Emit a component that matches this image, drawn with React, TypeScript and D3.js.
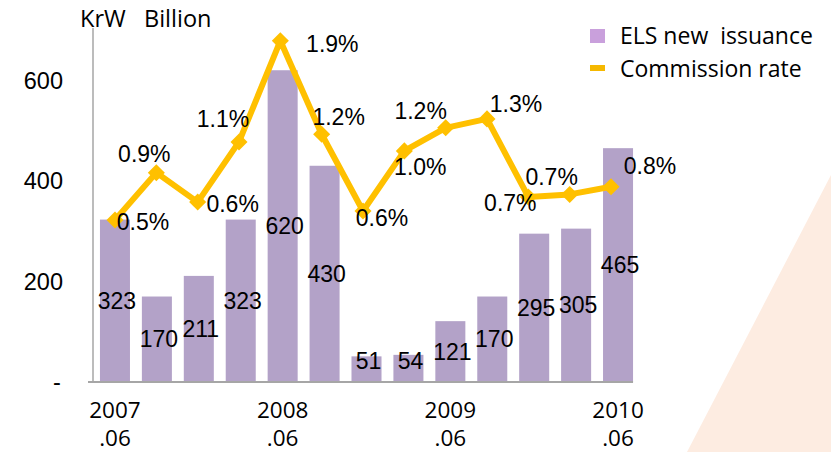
import * as d3 from "d3";

// quarterly periods, ELS issuance (KrW bn) and commission rate (%)
const periods = [
  "2007.06", "2007.09", "2007.12", "2008.03", "2008.06", "2008.09", "2008.12",
  "2009.03", "2009.06", "2009.09", "2009.12", "2010.03", "2010.06",
];
const issuance = [323, 170, 211, 323, 620, 430, 51, 54, 121, 170, 295, 305, 465];
const commission = [0.5, 0.87, 0.64, 1.11, 1.9, 1.17, 0.57, 1.04, 1.22, 1.29, 0.68, 0.7, 0.76];
const yTicks = [0, 200, 400, 600];

// manual label nudges (dx, dy) for the rate labels, as placed in the original
const rateLabelNudge = [
  [28, 2], [-12, -19], [35, 2], [-16, -23], [52, 3], [17, -17], [19, 7],
  [16, 16], [-25, -17], [29, -15], [-18, 6], [-18, -17], [39, -21],
];

const width = 831;
const height = 452;
const numFont = "'Liberation Sans', Arial, sans-serif";
const textFont = "'Open Sans', 'Noto Sans', sans-serif";
const barColor = "#b3a2c8";
const lineColor = "#ffc000";

export default function App() {
  const x = d3.scaleBand()
    .domain(periods)
    .range([94, 639])
    .paddingInner(0.284)
    .paddingOuter(0.142);

  // the rate series sits on its own (secondary) axes
  const x2 = d3.scalePoint()
    .domain(periods)
    .range([115, 611]);

  const y = d3.scaleLinear().domain([0, 700]).range([382, 30]);
  const y2 = d3.scaleLinear().domain([0, 2]).range([284, 28]);

  const line = d3.line<number>()
    .x((d, i) => x2(periods[i]))
    .y(d => y2(d));

  const diamond = d3.symbol(d3.symbolSquare, 145)();

  const axisX = x.range()[0] - 1;

  return (
    <svg width={width} height={height} style={{ position: "absolute", left: 0, top: 0, background: "#fff" }}>
      {/* decorative background wedge */}
      <polygon points="687,452 831,175 831,452" fill="#fdece1" />

      <text x={80} y={27} fontFamily={textFont} fontSize={23.5} fill="#000" style={{ whiteSpace: "pre" }}>
        {"KrW   Billion"}
      </text>

      {yTicks.map(t => (
        <text key={t} x={t === 0 ? 57 : 63} y={y(t)} dy="0.35em" textAnchor={t === 0 ? "middle" : "end"}
          fontFamily={numFont} fontSize={23.5} fill="#000">
          {t === 0 ? "-" : t}
        </text>
      ))}

      {issuance.map((v, i) => (
        <rect key={periods[i]} x={x(periods[i])} y={y(v)} width={x.bandwidth()} height={y(0) - y(v)}
          fill={barColor} />
      ))}

      <line x1={axisX} x2={axisX} y1={y(700) - 2} y2={y(0)} stroke="#a6a6a6" strokeWidth={1.5} />
      <line x1={axisX - 5} x2={x(periods[periods.length - 1]) + x.bandwidth()} y1={y(0)} y2={y(0)}
        stroke="#a6a6a6" strokeWidth={2} />

      {periods.map(p => {
        const [yr, mo] = p.split(".");
        if (mo !== "06") return null;
        const cx = x(p) + x.bandwidth() / 2;
        return (
          <g key={p} fontFamily={textFont} fontSize={22.5} fill="#000" textAnchor="middle">
            <text x={cx} y={418}>{yr}</text>
            <text x={cx} y={446}>{"." + mo}</text>
          </g>
        );
      })}

      <path d={line(commission)} fill="none" stroke={lineColor} strokeWidth={6} strokeLinejoin="round" />
      {commission.map((v, i) => (
        <path key={periods[i]} d={diamond} fill={lineColor}
          transform={`translate(${x2(periods[i])},${y2(v)}) rotate(45)`} />
      ))}

      {issuance.map((v, i) => (
        <text key={periods[i]} x={x(periods[i]) + x.bandwidth() / 2 + 2} y={Math.min(y(v / 2), y(0) - 21)}
          dy="0.35em" textAnchor="middle" fontFamily={numFont} fontSize={23} fill="#000">
          {v}
        </text>
      ))}

      {commission.map((v, i) => (
        <text key={periods[i]} x={x2(periods[i]) + rateLabelNudge[i][0]} y={y2(v) + rateLabelNudge[i][1]}
          dy="0.35em" textAnchor="middle" fontFamily={numFont} fontSize={23} fill="#000">
          {v.toFixed(1) + "%"}
        </text>
      ))}

      {/* legend */}
      <rect x={590} y={29} width={15} height={14} fill="#c9a0dc" />
      <text x={620} y={44} fontFamily={textFont} fontSize={23} fill="#000" style={{ whiteSpace: "pre" }}>
        {"ELS new  issuance"}
      </text>
      <rect x={590} y={65} width={15} height={6} fill="#f5b800" />
      <text x={620} y={77} fontFamily={textFont} fontSize={23} fill="#000">Commission rate</text>
    </svg>
  );
}
